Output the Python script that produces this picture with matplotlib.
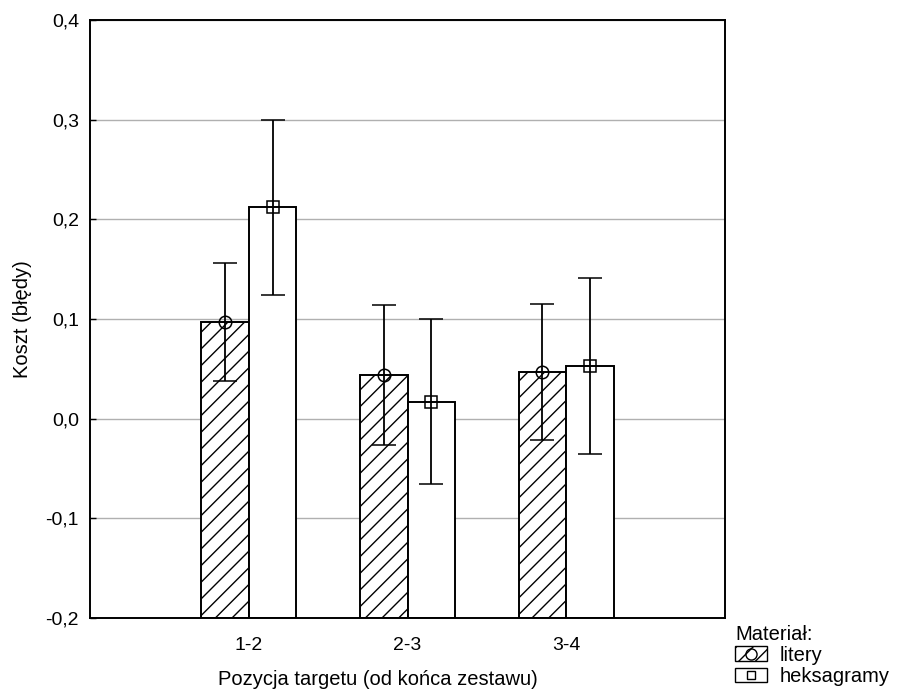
import numpy as np
import matplotlib.pyplot as plt
from matplotlib.patches import Patch
from matplotlib.lines import Line2D
from matplotlib.legend_handler import HandlerTuple

plt.rcParams['font.family'] = ['Liberation Sans', 'DejaVu Sans']
plt.rcParams['hatch.linewidth'] = 1.0

'''---Data---'''

positions = ["1-2", "2-3", "3-4"]
litery = [0.097, 0.044, 0.047]
litery_err = [0.059, 0.070, 0.068]
heksagramy = [0.212, 0.017, 0.053]
heksagramy_err = [0.088, 0.083, 0.088]

yticks = [-0.2, -0.1, 0.0, 0.1, 0.2, 0.3, 0.4]

'''---Plot---'''

fig = plt.figure(figsize=(9.01, 6.92), dpi=100)
ax = fig.add_axes([0.0999, 0.1069, 0.7048, 0.8642])

x = np.arange(1, len(positions)+1)
w = 0.3
base = yticks[0]

#bars grow from the bottom of the axis, not from zero
ax.bar(x - w/2, np.array(litery) - base, w, bottom=base, color="white",
       edgecolor="black", hatch="//", linewidth=1.4, zorder=2)
ax.bar(x + w/2, np.array(heksagramy) - base, w, bottom=base, color="white",
       edgecolor="black", linewidth=1.4, zorder=2)

ax.errorbar(x - w/2, litery, yerr=litery_err, fmt="o", mfc="none", mec="black",
            ms=9, mew=1.1, ecolor="black", elinewidth=1.3, capsize=8.5,
            capthick=1.3, zorder=3)
ax.errorbar(x + w/2, heksagramy, yerr=heksagramy_err, fmt="s", mfc="none", mec="black",
            ms=9, mew=1.1, ecolor="black", elinewidth=1.3, capsize=8.5,
            capthick=1.3, zorder=3)

ax.set_xlim(0, 4)
ax.set_ylim(-0.2, 0.4)
ax.set_xticks(x)
ax.set_xticklabels(positions, fontsize=14)
ax.set_yticks(yticks)
ax.set_yticklabels([("%.1f" % v).replace(".", ",") for v in yticks], fontsize=14)
ax.tick_params(axis="x", length=0, pad=14)
ax.tick_params(axis="y", direction="in", length=4, width=1, pad=8)
ax.yaxis.grid(True, color="#b0b0b0", linewidth=1, zorder=0)
ax.set_axisbelow(True)
for s in ax.spines.values():
    s.set_linewidth(1.4)

ax.set_xlabel("Pozycja targetu (od końca zestawu)", fontsize=14.5, labelpad=11)
ax.xaxis.set_label_coords(0.4535, -0.087)
ax.set_ylabel("Koszt (błędy)", fontsize=14.5, labelpad=10)

#legend sits below the right corner of the frame
h1 = (Patch(facecolor="white", edgecolor="black", hatch="//", linewidth=1.0),
      Line2D([], [], marker="o", ls="none", mfc="none", mec="black", ms=8, mew=1))
h2 = (Patch(facecolor="white", edgecolor="black", linewidth=1.0),
      Line2D([], [], marker="s", ls="none", mfc="none", mec="black", ms=6, mew=1))
leg = fig.legend([h1, h2], ["litery", "heksagramy"], title="Materiał:",
                 handler_map={tuple: HandlerTuple(ndivide=1, pad=0)},
                 loc="upper left", bbox_to_anchor=(0.816, 0.097), frameon=False,
                 fontsize=14.5, title_fontsize=14.5, handlelength=1.6, handleheight=0.75,
                 handletextpad=0.6, labelspacing=0.1, borderpad=0, borderaxespad=0)
leg._legend_box.align = "left"

plt.savefig("out.png", dpi=100)
